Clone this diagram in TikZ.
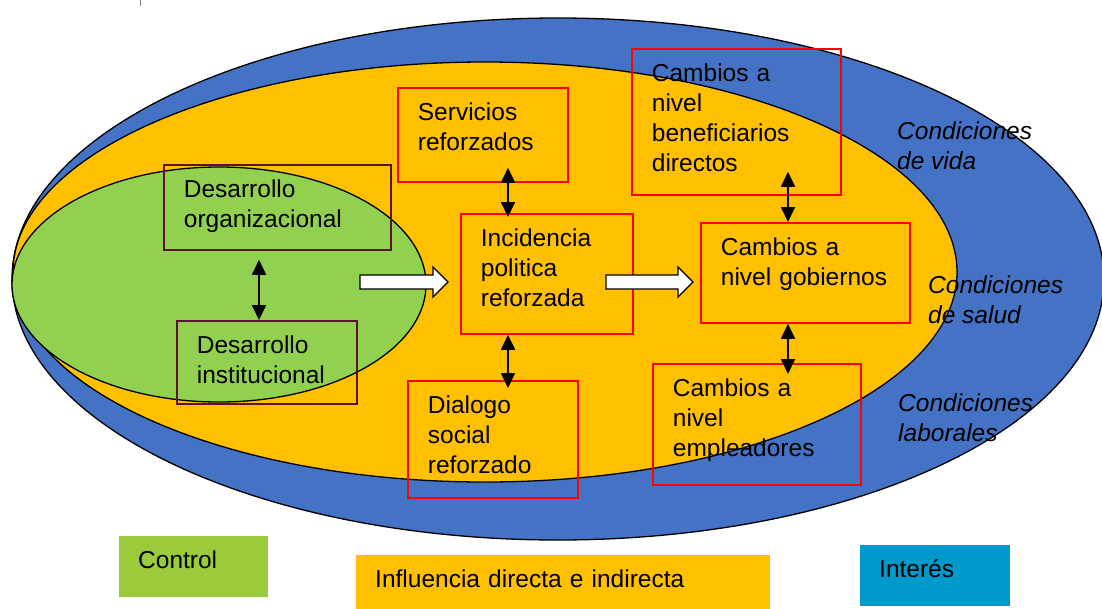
\documentclass[tikz,border=0pt]{standalone}
\usepackage{fontspec}
\setmainfont{Liberation Sans}
\usetikzlibrary{arrows.meta}
\definecolor{cblue}{HTML}{4472C4}
\definecolor{corange}{HTML}{FFC000}
\definecolor{cgreen}{HTML}{92D050}
\definecolor{lgreen}{RGB}{155,203,59}
\definecolor{lblue}{RGB}{0,153,204}
\definecolor{cmaroon}{RGB}{90,20,50}
\definecolor{cred}{RGB}{255,0,0}
\begin{document}
\begin{tikzpicture}[x=1pt,y=-1pt,
  txt/.style={font=\fontsize{24.5}{30}\selectfont},
  rbox/.style={txt, draw=cred, line width=1.8pt, anchor=north west, align=left, inner xsep=20pt, inner ysep=0pt, text height=33pt},
  mbox/.style={rbox, draw=cmaroon},
  dbl/.style={line width=1.8pt, {Triangle[width=14pt,length=15pt]}-{Triangle[width=14pt,length=15pt]}},
  blk/.style={draw=black, line width=1.2pt, fill=white},
  cond/.style={font=\fontsize{24.5}{30}\selectfont\itshape, anchor=north west, align=left, inner sep=0pt},
  leg/.style={txt, anchor=north west, align=left, inner xsep=19pt, inner ysep=0pt, text height=32pt},
  ell/.style={draw=black, line width=1.3pt}]
\useasboundingbox (0,0) rectangle (1102,608);
% ellipses
\draw[ell, fill=cblue] (558,279) ellipse [x radius=546pt, y radius=261pt];
\draw[ell, fill=corange] (485,272) ellipse [x radius=472pt, y radius=210pt];
\draw[ell, fill=cgreen] (219,284.5) ellipse [x radius=207pt, y radius=117.5pt];
\draw[gray, line width=0.8pt] (140,0) -- (140,6);
% boxes (text top-aligned: text depth = box height - 33pt)
\node[rbox, text width=130pt, text depth=61pt] (serv) at (397,87) {Servicios\\reforzados};
\node[rbox, text width=169pt, text depth=113pt] (benef) at (631,48) {Cambios a\\nivel\\beneficiarios\\directos};
\node[rbox, text width=132pt, text depth=87pt] (inc) at (460,213) {Incidencia\\politica\\reforzada};
\node[rbox, text width=169pt, text depth=67pt] (gob) at (700,222) {Cambios a\\nivel gobiernos};
\node[rbox, text width=130pt, text depth=84pt] (dial) at (407,380) {Dialogo\\social\\reforzado};
\node[rbox, text width=168pt, text depth=88pt] (emp) at (652,363) {Cambios a\\nivel\\empleadores};
\node[mbox, text width=187pt, text depth=52pt] (org) at (163,164) {Desarrollo\\organizacional};
\node[mbox, text width=140pt, text depth=50pt] (inst) at (176,320) {Desarrollo\\institucional};
% double arrows
\coordinate (ax1) at (259,0);
\coordinate (ax2) at (508,0);
\coordinate (ax3) at (788,0);
\draw[dbl, shorten <=9pt] (org.south -| ax1) -- (inst.north -| ax1);
\draw[dbl, shorten <=-15pt, shorten >=-4pt] (serv.south -| ax2) -- (inc.north -| ax2);
\draw[dbl, shorten >=-8pt] (inc.south -| ax2) -- (dial.north -| ax2);
\draw[dbl, shorten <=-24pt] (benef.south -| ax3) -- (gob.north -| ax3);
\draw[dbl, shorten >=-11pt] (gob.south -| ax3) -- (emp.north -| ax3);
% block arrows
\coordinate (ba1) at (360,282);
\coordinate (ba2) at (606,282);
\draw[blk] (ba1) ++(0,-7) -- ++(73,0) -- ++(0,-8) -- ++(15,15) -- ++(-15,15) -- ++(0,-8) -- ++(-73,0) -- cycle;
\draw[blk] (ba2) ++(0,-7) -- ++(72,0) -- ++(0,-8) -- ++(15,15) -- ++(-15,15) -- ++(0,-8) -- ++(-72,0) -- cycle;
% condition labels
\node[cond] (c1) at (897,122) {Condiciones\\de vida};
\node[cond] (c2) at (928,276) {Condiciones\\de salud};
\node[cond] (c3) at (898,394) {Condiciones\\laborales};
% legend
\node[leg, fill=lgreen, text width=111pt, text depth=29pt] (lc) at (119,536) {Control};
\node[leg, fill=corange, text width=376pt, text depth=22pt] (li) at (356,555) {Influencia directa e indirecta};
\node[leg, fill=lblue, text width=112pt, text depth=29pt] (lint) at (860,545) {Interés};
\end{tikzpicture}
\end{document}
